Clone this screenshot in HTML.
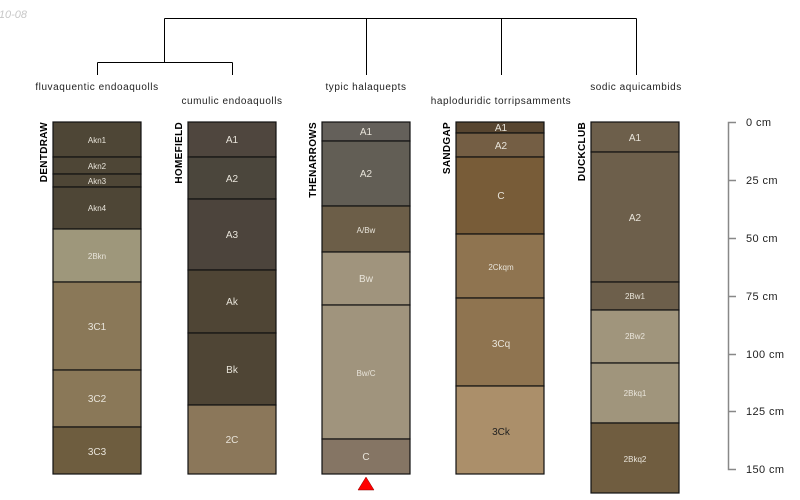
<!DOCTYPE html>
<html><head><meta charset="utf-8"><style>body{margin:0;background:#fff}svg{display:block}</style></head>
<body>
<svg width="800" height="500" xmlns="http://www.w3.org/2000/svg" font-family="Liberation Sans, sans-serif">
<text x="27" y="18" font-size="11" font-style="italic" fill="#c8c8c8" text-anchor="end">2010-08</text>
<g stroke="#000" stroke-width="1" fill="none">
<path d="M164.5 18.5H636.5M164.5 18.5V62.5M366.5 18.5V75M501.5 18.5V75M636.5 18.5V75M97.5 62.5H232.5M97.5 62.5V75M232.5 62.5V75"/>
</g>
<g font-size="10" fill="#222" text-anchor="middle" letter-spacing="0.55">
<text x="97" y="90">fluvaquentic endoaquolls</text>
<text x="232" y="104">cumulic endoaquolls</text>
<text x="366" y="90">typic halaquepts</text>
<text x="501" y="104">haploduridic torripsamments</text>
<text x="636" y="90">sodic aquicambids</text>
</g>
<g font-size="10" font-weight="bold" fill="#000" text-anchor="end" letter-spacing="0.3">
<text transform="translate(47,122) rotate(-90)">DENTDRAW</text>
<text transform="translate(182,122) rotate(-90)">HOMEFIELD</text>
<text transform="translate(316,122) rotate(-90)">THENARROWS</text>
<text transform="translate(450,122) rotate(-90)">SANDGAP</text>
<text transform="translate(585,122) rotate(-90)">DUCKCLUB</text>
</g>
<g stroke="#111" stroke-width="1.2">
<rect x="53" y="122" width="88" height="35" fill="#4e4636"/>
<rect x="53" y="157" width="88" height="17" fill="#4e4636"/>
<rect x="53" y="174" width="88" height="13" fill="#4e4636"/>
<rect x="53" y="187" width="88" height="42" fill="#4e4636"/>
<rect x="53" y="229" width="88" height="53" fill="#9e977b"/>
<rect x="53" y="282" width="88" height="88" fill="#8a7858"/>
<rect x="53" y="370" width="88" height="57" fill="#8a7858"/>
<rect x="53" y="427" width="88" height="47" fill="#6e5d3f"/>
<rect x="188" y="122" width="88" height="35" fill="#4f463e"/>
<rect x="188" y="157" width="88" height="42" fill="#4b463c"/>
<rect x="188" y="199" width="88" height="71" fill="#4c443c"/>
<rect x="188" y="270" width="88" height="63" fill="#4f4535"/>
<rect x="188" y="333" width="88" height="72" fill="#4f4535"/>
<rect x="188" y="405" width="88" height="69" fill="#8b775a"/>
<rect x="322" y="122" width="88" height="19" fill="#64605a"/>
<rect x="322" y="141" width="88" height="65" fill="#625e55"/>
<rect x="322" y="206" width="88" height="46" fill="#6c5e48"/>
<rect x="322" y="252" width="88" height="53" fill="#a0947d"/>
<rect x="322" y="305" width="88" height="134" fill="#a0947d"/>
<rect x="322" y="439" width="88" height="35" fill="#857564"/>
<rect x="456" y="122" width="88" height="11" fill="#574530"/>
<rect x="456" y="133" width="88" height="24" fill="#745e44"/>
<rect x="456" y="157" width="88" height="77" fill="#785c38"/>
<rect x="456" y="234" width="88" height="64" fill="#8f7450"/>
<rect x="456" y="298" width="88" height="88" fill="#8f7450"/>
<rect x="456" y="386" width="88" height="88" fill="#ab8f6a"/>
<rect x="591" y="122" width="88" height="30" fill="#6d5f4b"/>
<rect x="591" y="152" width="88" height="130" fill="#6d5f4b"/>
<rect x="591" y="282" width="88" height="28" fill="#6d5f4b"/>
<rect x="591" y="310" width="88" height="53" fill="#a0957c"/>
<rect x="591" y="363" width="88" height="60" fill="#a0957c"/>
<rect x="591" y="423" width="88" height="70" fill="#705d40"/>
</g>
<polygon points="366,477 358,490 374,490" fill="#f00" stroke="#800" stroke-width="0.5"/>
<g fill="#e8e4da" text-anchor="middle" font-size="10">
<g font-size="8"><text x="97" y="143">Akn1</text><text x="97" y="169">Akn2</text><text x="97" y="184">Akn3</text><text x="97" y="211">Akn4</text><text x="97" y="259">2Bkn</text></g>
<text x="97" y="330">3C1</text><text x="97" y="402">3C2</text><text x="97" y="455">3C3</text>
<text x="232" y="143">A1</text><text x="232" y="182">A2</text><text x="232" y="238">A3</text><text x="232" y="305">Ak</text><text x="232" y="373">Bk</text><text x="232" y="443">2C</text>
<text x="366" y="135">A1</text><text x="366" y="177">A2</text><text x="366" y="233" font-size="8">A/Bw</text><text x="366" y="282">Bw</text><text x="366" y="376" font-size="8">Bw/C</text><text x="366" y="460">C</text>
<text x="501" y="131">A1</text><text x="501" y="149">A2</text><text x="501" y="199">C</text><text x="501" y="270" font-size="8">2Ckqm</text><text x="501" y="347">3Cq</text><text x="501" y="435" fill="#222">3Ck</text>
<text x="635" y="141">A1</text><text x="635" y="221">A2</text><text x="635" y="299" font-size="8">2Bw1</text><text x="635" y="339" font-size="8">2Bw2</text><text x="635" y="396" font-size="8">2Bkq1</text><text x="635" y="462" font-size="8">2Bkq2</text>
</g>
<g stroke="#888" stroke-width="1.5" fill="none">
<path d="M736 122.5H728.5V469.5H736M728 180.5H736M728 238.5H736M728 296.5H736M728 354.5H736M728 411.5H736"/>
</g>
<g font-size="11" fill="#222" letter-spacing="0.4">
<text x="746" y="126">0 cm</text><text x="746" y="184">25 cm</text><text x="746" y="242">50 cm</text><text x="746" y="300">75 cm</text><text x="746" y="358">100 cm</text><text x="746" y="415">125 cm</text><text x="746" y="473">150 cm</text>
</g>
</svg>
</body></html>
